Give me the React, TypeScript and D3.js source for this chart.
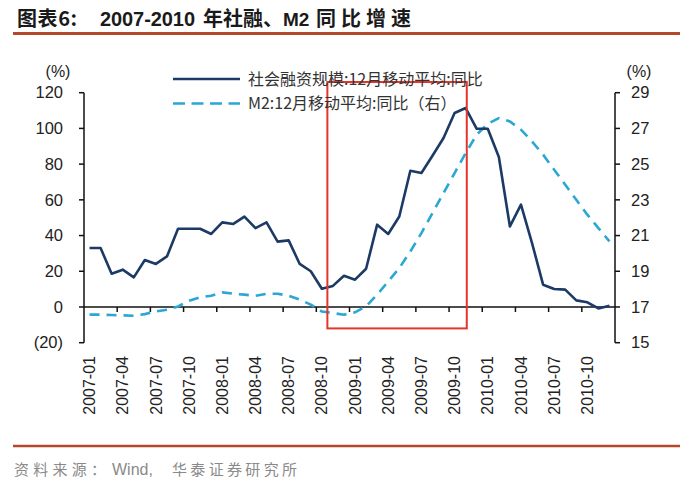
import React from 'react';
import * as d3 from 'd3';

const months = [
  '2007-01','2007-02','2007-03','2007-04','2007-05','2007-06','2007-07','2007-08','2007-09','2007-10','2007-11','2007-12',
  '2008-01','2008-02','2008-03','2008-04','2008-05','2008-06','2008-07','2008-08','2008-09','2008-10','2008-11','2008-12',
  '2009-01','2009-02','2009-03','2009-04','2009-05','2009-06','2009-07','2009-08','2009-09','2009-10','2009-11','2009-12',
  '2010-01','2010-02','2010-03','2010-04','2010-05','2010-06','2010-07','2010-08','2010-09','2010-10','2010-11','2010-12',
];

// 社会融资规模:12月移动平均:同比 (left axis, %)
const tsfYoY = [
  33, 33, 18.6, 20.9, 16.6, 26.3, 24.1, 28.3, 43.8, 43.8, 43.8, 40.9,
  47.4, 46.5, 50.6, 44.2, 47.4, 36.6, 37.3, 24.1, 20, 10.2, 11.8, 17.5,
  15.3, 21.4, 46.1, 40.9, 50.7, 76.3, 75, 84.7, 94.6, 108.6, 111.4, 99.8,
  99.8, 84, 45.1, 57.3, 35.8, 12.5, 10.1, 9.7, 3.7, 2.6, -0.8, 0.7,
];

// M2:12月移动平均:同比 (right axis, %)
const m2YoY = [
  16.57, 16.57, 16.55, 16.53, 16.51, 16.6, 16.75, 16.85, 17.03, 17.35, 17.54, 17.63,
  17.82, 17.74, 17.69, 17.63, 17.74, 17.74, 17.63, 17.41, 17.13, 16.75, 16.66, 16.57,
  16.7, 17.03, 17.69, 18.43, 19.18, 20.11, 21.14, 22.26, 23.38, 24.5, 25.62, 26.65,
  27.26, 27.58, 27.39, 26.93, 26.27, 25.53, 24.69, 23.85, 23.0, 22.17, 21.42, 20.67,
];

const leftTicks = [-20, 0, 20, 40, 60, 80, 100, 120];
const rightTicks = [15, 17, 19, 21, 23, 25, 27, 29];
const xLabelEvery = 3;

const seriesNames = ['社会融资规模:12月移动平均:同比', 'M2:12月移动平均:同比（右）'];
const titleParts = ['图表6:', '2007-2010', '年社融、', 'M2', '同比增速'];
const sourceParts = ['资料来源：', 'Wind,', '华泰证券研究所'];

// highlight box (in data terms)
const boxStart = '2008-11';
const boxEnd = '2009-11';
const boxTop = 126;
const boxBottom = -12;

const FONT = "'Liberation Sans', Arial, 'Noto Sans CJK SC', sans-serif";
const CJK = "'Noto Sans CJK SC', 'Liberation Sans', sans-serif";

export default function App() {
  const W = 692, H = 485;
  const x0 = 84, x1 = 615;
  const yTop = 92.7, yBot = 342.7;

  const x = d3.scaleBand<string>().domain(months).range([x0, x1]).padding(0);
  const bw = x.bandwidth();
  const cx = (m: string) => (x(m) as number) + bw / 2;
  const yL = d3.scaleLinear().domain([-20, 120]).range([yBot, yTop]);
  const yR = d3.scaleLinear().domain([15, 29]).range([yBot, yTop]);

  const lineL = d3.line<number>().x((_, i) => cx(months[i])).y((d) => yL(d));
  const lineR = d3.line<number>().x((_, i) => cx(months[i])).y((d) => yR(d));

  const dark = '#1B3A66';
  const light = '#2AA7D3';
  const axisColor = '#111';
  const textColor = '#222';

  const fmtL = (v: number) => (v < 0 ? `(${Math.abs(v)})` : `${v}`);
  const zeroY = yL(0);

  const bx0 = x(boxStart) as number;
  const bx1 = (x(boxEnd) as number) + bw * 0.6;

  const titleY = 26;
  const tc = '#1a1a1a';

  return (
    <svg width={W} height={H} style={{ position: 'absolute', left: 0, top: 0, background: '#fff' }}>
      <rect x={0} y={0} width={W} height={H} fill="#fff" />
      {/* Title */}
      <text x={17} y={titleY} fontFamily={CJK} fontWeight="bold" fontSize={20} fill={tc} textLength={60} lengthAdjust="spacing">{titleParts[0]}</text>
      <text x={100} y={titleY} fontFamily={FONT} fontWeight="bold" fontSize={20} fill={tc} textLength={95} lengthAdjust="spacing">{titleParts[1]}</text>
      <text x={203} y={titleY} fontFamily={CJK} fontWeight="bold" fontSize={20} fill={tc}>
        {titleParts[2]}
        <tspan fontFamily={FONT} fontSize={19}>{titleParts[3]}</tspan>
      </text>
      <text x={316} y={titleY} fontFamily={CJK} fontWeight="bold" fontSize={20} fill={tc} textLength={95} lengthAdjust="spacing">{titleParts[4]}</text>
      <line x1={13} x2={680} y1={33.5} y2={33.5} stroke="#B5472B" strokeWidth={3} />

      {/* Left axis */}
      <line x1={x0} x2={x0} y1={yTop} y2={yBot} stroke={axisColor} strokeWidth={1.5} />
      {leftTicks.map((t) => (
        <g key={'l' + t}>
          <line x1={x0 - 5} x2={x0} y1={yL(t)} y2={yL(t)} stroke={axisColor} strokeWidth={1.5} />
          <text x={63} y={yL(t)} dy="0.35em" textAnchor="end" fontFamily={FONT} fontSize={16.5} fill={textColor}>{fmtL(t)}</text>
        </g>
      ))}
      <text x={58} y={77} textAnchor="middle" fontFamily={FONT} fontSize={16} fill={textColor}>(%)</text>

      {/* Right axis */}
      <line x1={x1} x2={x1} y1={yTop} y2={yBot} stroke={axisColor} strokeWidth={1.5} />
      {rightTicks.map((t) => (
        <g key={'r' + t}>
          <line x1={x1} x2={x1 + 5} y1={yR(t)} y2={yR(t)} stroke={axisColor} strokeWidth={1.5} />
          <text x={631} y={yR(t)} dy="0.35em" textAnchor="start" fontFamily={FONT} fontSize={16.5} fill={textColor}>{t}</text>
        </g>
      ))}
      <text x={639} y={77} textAnchor="middle" fontFamily={FONT} fontSize={16} fill={textColor}>(%)</text>

      {/* X axis at 0 */}
      <line x1={x0} x2={x1} y1={zeroY} y2={zeroY} stroke={axisColor} strokeWidth={1.5} />
      {months.map((m, i) =>
        i > 0 && i % xLabelEvery === 0 ? (
          <line key={'xt' + m} x1={x(m) as number} x2={x(m) as number} y1={zeroY} y2={zeroY + 5} stroke={axisColor} strokeWidth={1.5} />
        ) : null
      )}
      {months.map((m, i) =>
        i % xLabelEvery === 0 ? (
          <text
            key={'xl' + m}
            transform={`translate(${cx(m)},${356}) rotate(-90)`}
            textAnchor="end"
            dy="0.35em"
            fontFamily={FONT}
            fontSize={16}
            fill={textColor}
          >
            {m}
          </text>
        ) : null
      )}

      {/* Series */}
      <path d={lineR(m2YoY) || ''} fill="none" stroke={light} strokeWidth={2.6} strokeDasharray="10,7" />
      <path d={lineL(tsfYoY) || ''} fill="none" stroke={dark} strokeWidth={2.6} strokeLinejoin="round" />

      {/* Highlight box */}
      <rect x={bx0} y={yL(boxTop)} width={bx1 - bx0} height={yL(boxBottom) - yL(boxTop)} fill="none" stroke="#E2352B" strokeWidth={2} />

      {/* Legend */}
      <line x1={173} x2={240} y1={79} y2={79} stroke={dark} strokeWidth={2.6} />
      <text x={248} y={79} dy="0.36em" fontFamily={CJK} fontSize={16} fill="#333">{seriesNames[0]}</text>
      <line x1={173} x2={240} y1={103.5} y2={103.5} stroke={light} strokeWidth={2.6} strokeDasharray="12,6.5" />
      <text x={248} y={103.5} dy="0.36em" fontFamily={CJK} fontSize={16} fill="#333">{seriesNames[1]}</text>

      {/* Footer */}
      <line x1={13} x2={680} y1={446} y2={446} stroke="#B5472B" strokeWidth={2.5} />
      <text x={14} y={475} fontFamily={CJK} fontSize={15} fill="#8a8a8a" textLength={92} lengthAdjust="spacing">{sourceParts[0]}</text>
      <text x={112} y={475} fontFamily={FONT} fontSize={16} fill="#8a8a8a">{sourceParts[1]}</text>
      <text x={172} y={475} fontFamily={CJK} fontSize={15} fill="#8a8a8a" textLength={125} lengthAdjust="spacing">{sourceParts[2]}</text>
    </svg>
  );
}
